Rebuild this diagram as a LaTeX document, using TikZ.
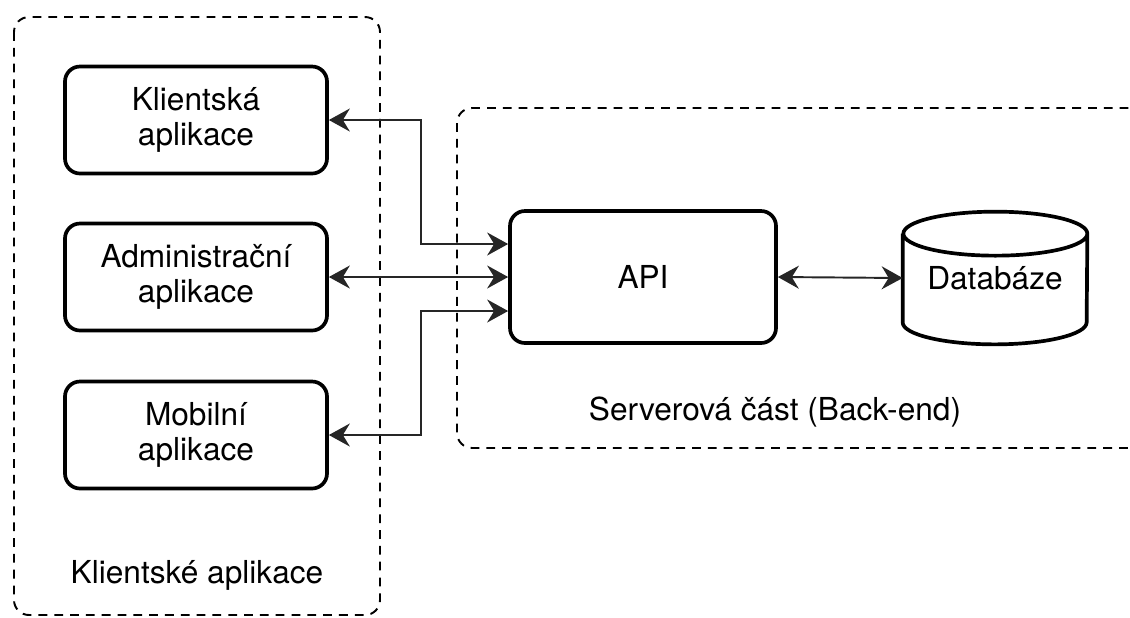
\documentclass[tikz,border=0pt]{standalone}
\usepackage{fontspec}
\setmainfont{TeX Gyre Heros}
\usepackage{tikz}
\usetikzlibrary{arrows.meta}

\begin{document}
\begin{tikzpicture}[>={Stealth[length=0.42cm,width=0.46cm,inset=0.14cm]}]
\useasboundingbox (0,0) rectangle (22.6,-12.34);
\clip (0,0) rectangle (22.6,-12.34);
\fontsize{18}{19.5}\selectfont

% containers
\draw[line width=1.1pt, dash pattern=on 5pt off 4pt, rounded corners=0.3cm] (0.28,-0.34) rectangle (7.6,-12.3);
\draw[line width=1.1pt, dash pattern=on 5pt off 4pt, rounded corners=0.3cm] (9.14,-2.16) rectangle (23.0,-8.96);
\node (klientske) at (3.94,-11.5) {Klientské aplikace};
\node (server) at (15.5,-8.24) {Serverová část (Back-end)};

\begin{scope}[every node/.style={draw,line width=2.1pt,rounded corners=0.3cm,align=center}]
\node[minimum width=5.24cm, minimum height=2.14cm] (klient) at (3.92,-2.4) {Klientská\\aplikace};
\node[minimum width=5.24cm, minimum height=2.14cm] (admin) at (3.92,-5.54) {Administrační\\aplikace};
\node[minimum width=5.24cm, minimum height=2.14cm] (mobil) at (3.92,-8.7) {Mobilní\\aplikace};
\node[minimum width=5.32cm, minimum height=2.64cm] (api) at (12.86,-5.54) {API};
\end{scope}

% database cylinder
\node[minimum width=3.68cm, minimum height=2.64cm, inner sep=0pt] (db) at (19.9,-5.56) {Databáze};
\draw[line width=2.1pt] ([yshift=-0.44cm]db.north west) -- ([yshift=0.44cm]db.south west)
  arc[start angle=180, end angle=360, x radius=1.84cm, y radius=0.44cm]
  -- ([yshift=-0.44cm]db.north east)
  arc[start angle=0, end angle=360, x radius=1.84cm, y radius=0.44cm];

% connectors
\draw[<->, line width=1.1pt, draw=black!85] (klient.east) -- ++(1.84,0) |- ([yshift=0.66cm]api.west);
\draw[<->, line width=1.1pt, draw=black!85] (admin.east) -- (api.west);
\draw[<->, line width=1.1pt, draw=black!85] (mobil.east) -- ++(1.84,0) |- ([yshift=-0.68cm]api.west);
\draw[<->, line width=1.1pt, draw=black!85] (api.east) -- (db.west);

\end{tikzpicture}
\end{document}
